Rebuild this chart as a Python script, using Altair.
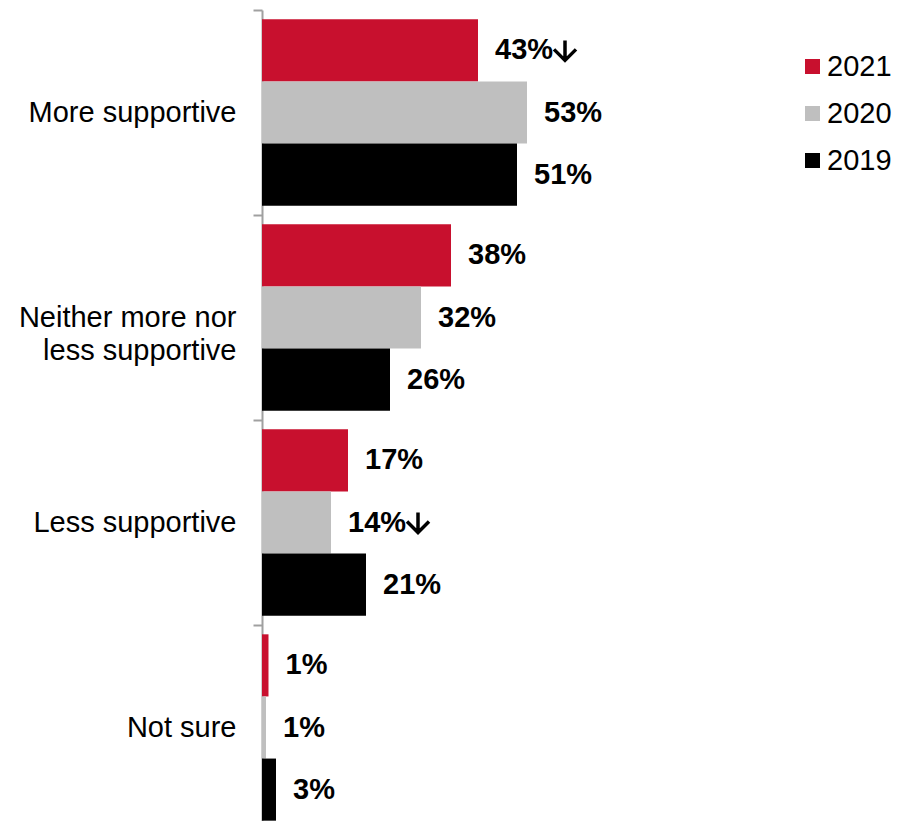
import altair as alt
import pandas as pd

categories = ["More supportive", "Neither more nor less supportive", "Less supportive", "Not sure"]
years = ["2021", "2020", "2019"]
v2021 = [43.2, 37.8, 17.2, 1.3]
v2020 = [53.0, 31.8, 13.8, 0.8]
v2019 = [51.0, 25.6, 20.8, 2.8]
l2021 = ["43%", "38%", "17%", "1%"]
l2020 = ["53%", "32%", "14%", "1%"]
l2019 = ["51%", "26%", "21%", "3%"]
# significant decrease marker (down arrow) after the label
d2021 = [True, False, False, False]
d2020 = [False, False, True, False]
d2019 = [False, False, False, False]
colors = ["#C8102E", "#BFBFBF", "#000000"]

rows = []
for yr, vals, labs, downs in zip(years, [v2021, v2020, v2019], [l2021, l2020, l2019], [d2021, d2020, d2019]):
    for c, v, l, d in zip(categories, vals, labs, downs):
        rows.append({"category": c, "year": yr, "value": v, "label": l, "down": d})
df = pd.DataFrame(rows)

FONT = "Liberation Sans"

y = alt.Y("category:N", sort=categories, title=None,
          scale=alt.Scale(paddingInner=0, paddingOuter=0, range=[0, 820]),
          axis=alt.Axis(tickBand="extent", domainColor="#A0A0A0", domainWidth=2,
                        tickColor="#A0A0A0", tickWidth=2, tickSize=9,
                        labelPadding=17, labelFontSize=29, labelFont=FONT,
                        labelColor="#000000", labelLimit=400, labelLineHeight=33,
                        labelExpr="datum.label == 'Neither more nor less supportive' ? ['Neither more nor', 'less supportive'] : datum.label"))
yoff = alt.YOffset("year:N", sort=years, scale=alt.Scale(paddingOuter=0.15, paddingInner=0))
x = alt.X("value:Q", title=None, scale=alt.Scale(domain=[0, 108], nice=False, zero=True), axis=None)

bars = alt.Chart(df).mark_bar().encode(
    x=x, y=y, yOffset=yoff,
    color=alt.Color("year:N", sort=years,
                    scale=alt.Scale(domain=years, range=colors),
                    legend=alt.Legend(title=None, orient="none", legendX=536, legendY=42,
                                      symbolType="square", symbolSize=225,
                                      symbolStrokeWidth=0, labelFontSize=29, labelFont=FONT,
                                      labelColor="#000000", rowPadding=17, padding=0,
                                      labelOffset=0)),
)

text = alt.Chart(df).mark_text(align="left", baseline="middle", dx=17,
                               fontSize=29, fontWeight="bold", font=FONT, color="#000000").encode(
    x=x, y=y, yOffset=yoff, text="label:N"
)

arrow_shape = "M0,-1L0,1M-1.1,-0.1L0,1L1.1,-0.1"
arrows = alt.Chart(df).transform_filter(alt.datum.down).mark_point(
    shape=arrow_shape, size=400, filled=False, stroke="#000000", strokeWidth=3.5,
    opacity=1, strokeJoin="miter"
).encode(
    x=x, y=y, yOffset=yoff, xOffset=alt.value(87)
)

chart = (bars + text + arrows).properties(
    width=540, height=811,
    autosize=alt.AutoSizeParams(type="none"),
    padding={"left": 254, "top": 2, "right": 91, "bottom": 0},
).configure_view(stroke=None)

chart.save("out.html", embed_options={"renderer": "svg", "actions": False})
